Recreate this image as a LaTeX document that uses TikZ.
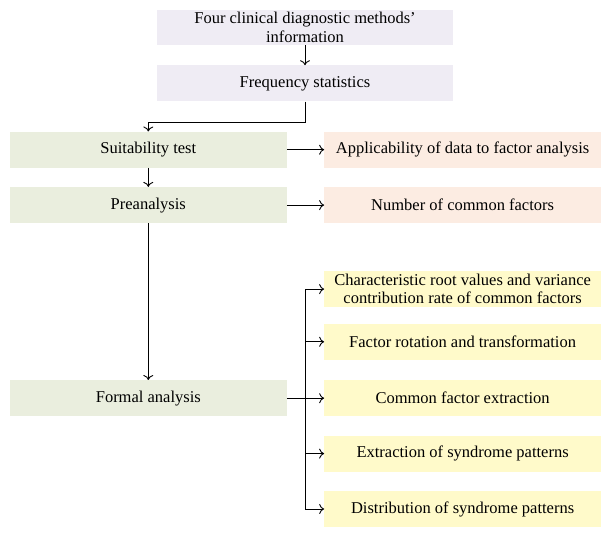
\documentclass[tikz,border=0pt]{standalone}
\usepackage{fontspec}
\setmainfont{Liberation Serif}
\usepackage{xcolor}
\usetikzlibrary{shapes,arrows,arrows.meta,positioning}

\definecolor{infogray}{RGB}{239,236,244}
\definecolor{stepgreen}{RGB}{234,238,222}
\definecolor{resultpeach}{RGB}{252,236,226}
\definecolor{outyellow}{RGB}{255,250,202}

\begin{document}
\begin{tikzpicture}[x=1pt, y=-1pt, node distance=19pt and 37.3pt,
    box/.style={rectangle, inner sep=0pt, minimum height=36pt, align=center,
        font=\fontsize{16.5}{18.5}\selectfont},
    topbox/.style={box, fill=infogray, minimum width=296pt},
    stepbox/.style={box, fill=stepgreen, minimum width=276.7pt},
    resbox/.style={box, fill=resultpeach, minimum width=276.5pt},
    outbox/.style={box, fill=outyellow, minimum width=276.5pt},
    arrow/.style={-{To[length=5pt,width=10pt]}, line width=0.9pt}]

    \useasboundingbox (0,0) rectangle (611,537);

    \node[topbox, minimum height=35pt] (info) at (305,27.5) {Four clinical diagnostic methods’\\information};
    \node[topbox, below=20pt of info] (freq) {Frequency statistics};
    \node[stepbox] (suit) at (148.3,149.7) {Suitability test};
    \node[stepbox, below=of suit] (pre) {Preanalysis};
    \node[stepbox] (formal) at (148.3,398.2) {Formal analysis};
    \node[resbox, right=of suit] (appl) {Applicability of data to factor analysis};
    \node[resbox, right=of pre] (ncf) {Number of common factors};
    \node[outbox, right=of formal] (extract) {Common factor extraction};
    \node[outbox, above=20pt of extract] (rotate) {Factor rotation and transformation};
    \node[outbox, above=16.3pt of rotate] (root) {Characteristic root values and variance\\contribution rate of common factors};
    \node[outbox, below=of extract] (pattern) {Extraction of syndrome patterns};
    \node[outbox, below=of pattern] (distrib) {Distribution of syndrome patterns};
    \coordinate (bus) at (305,0);

    \draw[arrow] (info) -- (freq);
    \draw[arrow] (freq.south) -- ++(0,20.7) -| (suit.north);
    \draw[arrow] (suit) -- (appl);
    \draw[arrow] (suit) -- (pre);
    \draw[arrow] (pre) -- (ncf);
    \draw[arrow] (pre) -- (formal);
    \draw[arrow] (formal) -- (extract);
    \draw[line width=0.9pt] (bus |- root.west) -- (bus |- distrib.west);
    \foreach \n in {root,rotate,pattern,distrib}
        \draw[arrow] (bus |- \n.west) -- (\n.west);

\end{tikzpicture}
\end{document}
